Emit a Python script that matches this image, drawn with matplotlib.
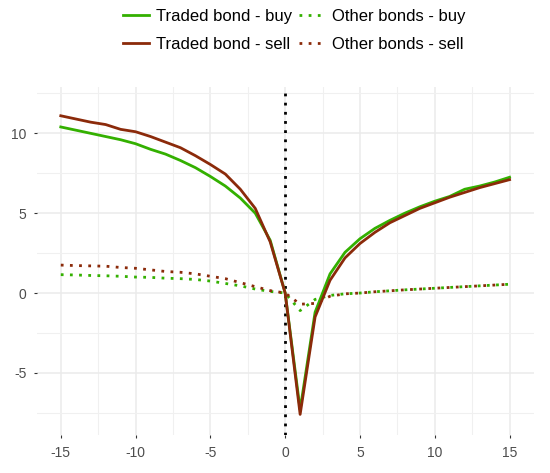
import numpy as np
import matplotlib
matplotlib.use("Agg")
import matplotlib.pyplot as plt
from matplotlib.ticker import MultipleLocator

plt.rcParams['font.family'] = ['Liberation Sans', 'DejaVu Sans']
plt.rcParams['axes.unicode_minus'] = False

# event time (days around the trade)
days = list(range(-15, 16))

traded_buy = [10.4, 10.2, 10.0, 9.8, 9.6, 9.35, 9.0, 8.7, 8.3, 7.85, 7.3, 6.7, 5.95, 5.0, 3.3,
              0.0, -7.3, -1.2, 1.2, 2.55, 3.4, 4.05, 4.55, 5.0, 5.4, 5.75, 6.05, 6.5, 6.7, 6.95, 7.25]
traded_sell = [11.1, 10.9, 10.7, 10.55, 10.25, 10.1, 9.8, 9.45, 9.1, 8.6, 8.05, 7.45, 6.5, 5.3, 3.2,
               0.0, -7.6, -1.5, 0.8, 2.2, 3.1, 3.8, 4.4, 4.85, 5.3, 5.65, 6.0, 6.3, 6.6, 6.85, 7.1]
other_buy = [1.15, 1.13, 1.1, 1.08, 1.05, 1.0, 0.98, 0.93, 0.9, 0.85, 0.75, 0.6, 0.45, 0.25, 0.1,
             0.0, -1.1, -0.4, -0.15, -0.05, 0.0, 0.08, 0.14, 0.2, 0.25, 0.3, 0.35, 0.4, 0.45, 0.5, 0.55]
other_sell = [1.75, 1.72, 1.7, 1.68, 1.6, 1.55, 1.45, 1.35, 1.3, 1.2, 1.05, 0.9, 0.65, 0.4, 0.15,
              0.0, -0.7, -0.65, -0.2, -0.05, 0.0, 0.08, 0.14, 0.2, 0.25, 0.3, 0.35, 0.4, 0.45, 0.5, 0.55]

green = "#33b000"
brown = "#8b2a0a"
dots = (1, 2.3)

fig = plt.figure(figsize=(5.5, 4.73), dpi=100)
ax = fig.add_axes([0.067, 0.080, 0.903, 0.736])

ax.axvline(0, color="black", lw=2, dashes=dots, zorder=1)
l1, = ax.plot(days, traded_buy, color=green, lw=2, label="Traded bond - buy", zorder=3)
l2, = ax.plot(days, traded_sell, color=brown, lw=2, label="Traded bond - sell", zorder=3)
l3, = ax.plot(days, other_buy, color=green, lw=2, dashes=dots, label="Other bonds - buy", zorder=2)
l4, = ax.plot(days, other_sell, color=brown, lw=2, dashes=dots, label="Other bonds - sell", zorder=2)

ax.set_xlim(-16.6, 16.6)
ax.set_ylim(-8.9, 12.9)
ax.xaxis.set_major_locator(MultipleLocator(5))
ax.xaxis.set_minor_locator(MultipleLocator(2.5))
ax.yaxis.set_major_locator(MultipleLocator(5))
ax.yaxis.set_minor_locator(MultipleLocator(2.5))
ax.grid(True, which="major", color="#ebebeb", lw=1.1, zorder=0)
ax.grid(True, which="minor", color="#f0f0f0", lw=0.8, zorder=0)
ax.set_axisbelow(True)
for s in ax.spines.values():
    s.set_visible(False)
ax.tick_params(which="major", length=2.5, width=0.8, color="#333333",
               labelsize=10, labelcolor="#4d4d4d", pad=5)
ax.tick_params(which="minor", length=0)

fig.legend([l1, l2, l3, l4], [l.get_label() for l in (l1, l2, l3, l4)],
           ncol=2, loc="upper center", bbox_to_anchor=(0.535, 1.012), frameon=False,
           fontsize=12, handlelength=1.6, handletextpad=0.4, columnspacing=0.4,
           labelspacing=0.75)

fig.savefig("out.png", dpi=100)
